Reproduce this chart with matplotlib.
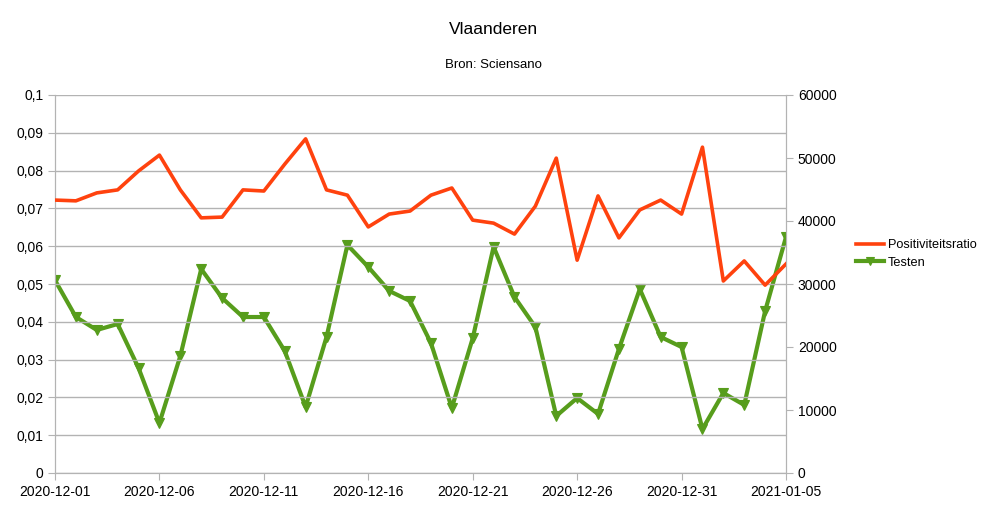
import matplotlib
matplotlib.use("Agg")
import matplotlib.pyplot as plt
import matplotlib.dates as mdates
import numpy as np
import pandas as pd

plt.rcParams['font.family'] = ['Liberation Sans', 'DejaVu Sans']

dates = pd.date_range("2020-12-01", "2021-01-05", freq="D")
positiviteitsratio = [0.0722, 0.0720, 0.0741, 0.0749, 0.0799, 0.0841, 0.0749, 0.0675, 0.0677,
                      0.0749, 0.0746, 0.0817, 0.0884, 0.0749, 0.0735, 0.0651, 0.0685, 0.0693,
                      0.0735, 0.0754, 0.0669, 0.0661, 0.0632, 0.0706, 0.0833, 0.0563, 0.0733,
                      0.0622, 0.0696, 0.0722, 0.0685, 0.0862, 0.0508, 0.0561, 0.0497, 0.0553]
testen = [30600, 24760, 22700, 23650, 16670, 7940, 18570, 32380, 27780, 24760, 24760, 19370,
          10480, 21590, 36190, 32700, 28900, 27300, 20630, 10320, 21400, 35900, 27940, 23170,
          9050, 11900, 9370, 19680, 29200, 21590, 20000, 6980, 12700, 10800, 25700, 37460]
left_ticks = [0, 0.01, 0.02, 0.03, 0.04, 0.05, 0.06, 0.07, 0.08, 0.09, 0.1]
right_ticks = [0, 10000, 20000, 30000, 40000, 50000, 60000]

red = "#FF420E"
green = "#579D1C"
grid_c = "#B3B3B3"

fig = plt.figure(figsize=(9.87, 5.07), dpi=100)
ax = fig.add_axes([55/987, 34/507, (786-55)/987, (473-95)/507])
ax2 = ax.twinx()

ax.plot(dates, positiviteitsratio, color=red, lw=2.6, label="Positiviteitsratio", zorder=3)
ax2.plot(dates, testen, color=green, lw=3, marker="v", markersize=7, markeredgewidth=0.8,
         label="Testen", zorder=3)

ax.set_xlim(dates[0], dates[-1])
ax.set_ylim(0, 0.1)
ax2.set_ylim(0, 60000)
ax.set_yticks(left_ticks)
ax.set_yticklabels([("%g" % v).replace(".", ",") for v in left_ticks])
ax2.set_yticks(right_ticks)
ax2.set_yticklabels([str(v) for v in right_ticks])

ax.set_xticks(dates[::5])
ax.xaxis.set_major_formatter(mdates.DateFormatter("%Y-%m-%d"))

ax.grid(axis='y', color=grid_c, lw=1)
ax.set_axisbelow(True)
for a in (ax, ax2):
    a.spines['top'].set_visible(False)
    for s in ('left', 'right', 'bottom'):
        a.spines[s].set_color(grid_c)
    a.tick_params(colors=grid_c, labelcolor='black', labelsize=10, length=5)
ax.set_zorder(ax2.get_zorder() + 1)
ax.patch.set_visible(False)

fig.text(0.5, 1 - 30/507, "Vlaanderen", ha='center', va='center', fontsize=12.5)
fig.text(0.5, 1 - 65/507, "Bron: Sciensano", ha='center', va='center', fontsize=9.5)

h1, l1 = ax.get_legend_handles_labels()
h2, l2 = ax2.get_legend_handles_labels()
fig.legend(h1 + h2, l1 + l2, loc='center left', bbox_to_anchor=(856/987, 1 - 254/507),
           frameon=False, fontsize=9.2, handlelength=2.2, handletextpad=0.3, labelspacing=0.4,
           borderaxespad=0, borderpad=0, markerscale=0.8)

fig.savefig("out.png", dpi=100)
